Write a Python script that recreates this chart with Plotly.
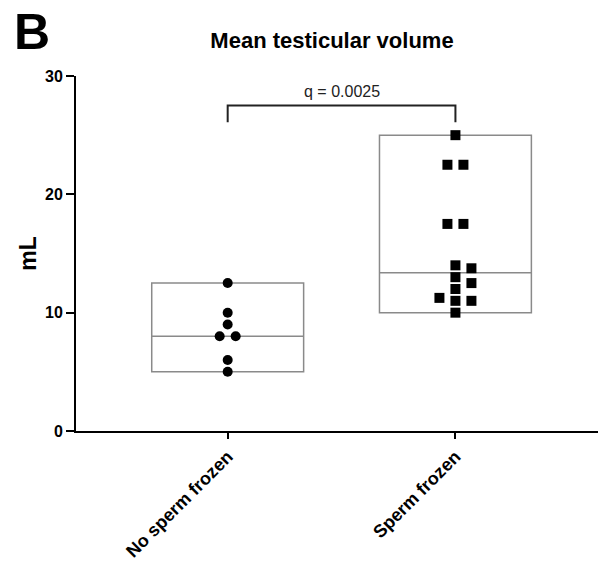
import numpy as np
import plotly.graph_objects as go

# ---------------- data ----------------
categories = ["No sperm frozen", "Sperm frozen"]
no_sperm_frozen = [12.5, 10, 9, 8, 8, 6, 5]
sperm_frozen = [25, 22.5, 22.5, 17.5, 17.5, 14, 13.75, 13, 12.5, 12, 11.25, 11, 11, 10]
y_ticks = [0, 10, 20, 30]
q_label = "q = 0.0025"
chart_title = "Mean testicular volume"
panel_letter = "B"
y_title = "mL"
bracket_top = 27.5
bracket_leg = 26.1

# ---------------- layout geometry ----------------
W, H = 613, 566
ML, MR, MT, MB = 76, 15, 76, 135
x_range = [-0.666, 1.626]
y_range = [0, 30]
plot_w = W - ML - MR
plot_h = H - MT - MB
px_per_x = plot_w / (x_range[1] - x_range[0])
px_per_y = plot_h / (y_range[1] - y_range[0])

FONT = "Liberation Sans, Arial, sans-serif"


def swarm_offsets(values, col_px=16, min_gap_px=10):
    vals = np.asarray(values, dtype=float)
    order = np.argsort(vals, kind="stable")
    cols = np.zeros(len(vals))
    placed = []
    for idx in order:
        v = vals[idx]
        for c in [0, 1, -1, 2, -2, 3, -3]:
            ok = True
            for j in placed:
                if cols[j] == c and abs(vals[j] - v) * px_per_y < min_gap_px:
                    ok = False
                    break
            if ok:
                cols[idx] = c
                break
        placed.append(idx)
    # centre groups made only of identical values
    comps, cur = [], [order[0]]
    for a, b in zip(order[:-1], order[1:]):
        if abs(vals[b] - vals[a]) * px_per_y < min_gap_px:
            cur.append(b)
        else:
            comps.append(cur)
            cur = [b]
    comps.append(cur)
    for comp in comps:
        if len(comp) > 1 and len(set(vals[comp])) == 1:
            n = len(comp)
            for k, j in enumerate(comp):
                cols[j] = k - (n - 1) / 2
    return cols * col_px / px_per_x


fig = go.Figure()

groups = [no_sperm_frozen, sperm_frozen]
symbols = ["circle", "square"]
sizes = [10, 10]

for i, vals in enumerate(groups):
    arr = np.asarray(vals, dtype=float)
    fig.add_trace(go.Box(
        x=[i], q1=[arr.min()], median=[np.median(arr)], q3=[arr.max()],
        lowerfence=[arr.min()], upperfence=[arr.max()],
        width=0.667, whiskerwidth=0,
        fillcolor="white", line=dict(color="#8a8a8a", width=1.5),
        hoverinfo="skip", showlegend=False,
    ))

for i, vals in enumerate(groups):
    offs = swarm_offsets(vals)
    fig.add_trace(go.Scatter(
        x=i + offs, y=vals, mode="markers",
        marker=dict(symbol=symbols[i], size=sizes[i], color="black", line=dict(width=0)),
        showlegend=False, hoverinfo="y",
    ))

# significance bracket
fig.add_trace(go.Scatter(
    x=[0, 0, 1, 1], y=[bracket_leg, bracket_top, bracket_top, bracket_leg],
    mode="lines", line=dict(color="#222222", width=2),
    showlegend=False, hoverinfo="skip",
))

fig.add_annotation(x=0.5, y=bracket_top, xref="x", yref="y", text=q_label,
                   showarrow=False, yanchor="bottom", yshift=4,
                   font=dict(family=FONT, size=16, color="#222222"))

fig.add_annotation(x=(12 - ML) / plot_w, y=1 + (MT - 32) / plot_h, xref="paper", yref="paper",
                   text=f"<b>{panel_letter}</b>", showarrow=False,
                   xanchor="left", yanchor="middle",
                   font=dict(family=FONT, size=50, color="black"))

fig.update_layout(
    width=W, height=H,
    margin=dict(l=ML, r=MR, t=MT, b=MB, autoexpand=False),
    paper_bgcolor="white", plot_bgcolor="white",
    title=dict(text=f"<b>{chart_title}</b>", x=332 / W, xanchor="center",
               y=1 - 40 / H, yanchor="middle",
               font=dict(family=FONT, size=22, color="black")),
    font=dict(family=FONT, color="black"),
    xaxis=dict(range=x_range, tickmode="array", tickvals=[0, 1],
               ticktext=[f"<b>{c}</b>" for c in categories],
               tickangle=-45, ticks="outside", ticklen=6, tickwidth=2, tickcolor="black",
               showline=True, linecolor="black", linewidth=2,
               showgrid=False, zeroline=False, automargin=False,
               tickfont=dict(family=FONT, size=18, color="black")),
    yaxis=dict(range=y_range, tickmode="array", tickvals=y_ticks,
               ticktext=[f"<b>{t}</b>" for t in y_ticks],
               ticks="outside", ticklen=8, tickwidth=2, tickcolor="black",
               showline=True, linecolor="black", linewidth=2,
               showgrid=False, zeroline=False, automargin=False,
               tickfont=dict(family=FONT, size=16, color="black"),
               title=dict(text=f"<b>{y_title}</b>", standoff=2,
                          font=dict(family=FONT, size=23, color="black"))),
)

fig.write_html("out.html", config={"displayModeBar": False},
               post_script="document.body.style.margin='0';")
